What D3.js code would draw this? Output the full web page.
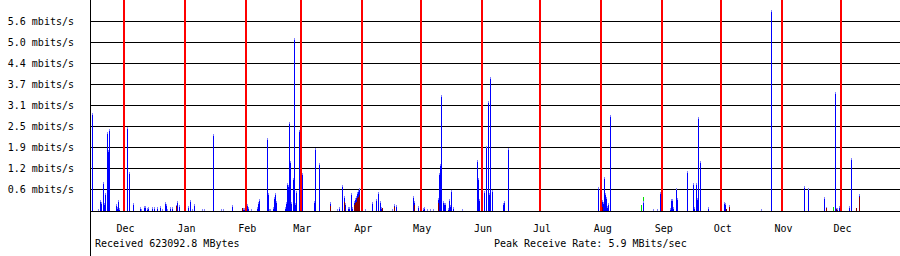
<!DOCTYPE html>
<html>
<head>
<meta charset="utf-8">
<script src="https://cdn.jsdelivr.net/npm/d3@7"></script>
<style>
  html, body { margin: 0; padding: 0; background: #fff; }
  svg { display: block; }
  text { font-family: "DejaVu Sans Mono", "Liberation Mono", monospace; font-size: 10px; fill: #000; }
</style>
</head>
<body>
<svg id="chart" width="900" height="256"></svg>
<script>
// ---- data ----
// month boundaries shown as red lines, with their labels
const monthLabels = ["Dec","Jan","Feb","Mar","Apr","May","Jun","Jul","Aug","Sep","Oct","Nov","Dec"];
// y-axis ticks (mbits/s) and the labels printed for them
const yTickValues = [0.625, 1.25, 1.875, 2.5, 3.125, 3.75, 4.375, 5.0, 5.625];
const yTickLabels = ["0.6","1.2","1.9","2.5","3.1","3.7","4.4","5.0","5.6"];

// sample position: days after 1 Dec (negative = November)
const blueDays = [-16.29,-13.24,-12.22,-11.71,-10.69,-10.18,-9.67,-8.65,-8.14,-7.64,-4.07,-3.56,-3.05,-2.55,
  1.53,2.55,4.58,8.14,8.65,10.18,10.69,11.71,12.22,14.25,15.27,16.80,18.33,19.34,20.87,21.38,21.89,23.42,24.43,
  26.47,26.98,28.00,32.58,33.60,34.62,35.63,39.71,40.72,45.31,49.38,50.40,54.98,60.58,61.09,62.61,63.12,64.65,
  67.71,68.21,68.72,72.80,73.30,73.81,74.32,75.85,76.36,76.87,77.38,81.96,82.47,82.98,83.49,84.00,84.50,85.01,
  86.03,86.54,87.05,87.56,89.09,90.61,96.72,97.23,99.27,104.87,108.43,109.45,110.98,111.99,112.50,114.03,114.54,
  115.56,116.07,117.08,117.59,118.10,118.61,119.12,119.63,122.68,126.25,128.28,129.30,130.32,130.83,136.43,137.45,
  138.46,147.12,147.63,149.66,152.21,152.72,154.25,155.77,157.30,159.85,160.35,160.86,161.37,162.39,162.90,163.41,
  164.94,165.44,165.95,166.46,167.48,172.06,179.70,180.21,180.72,182.24,183.26,184.28,185.30,185.81,186.32,187.33,
  192.93,193.44,195.48,241.29,243.33,243.84,244.35,244.86,245.37,245.88,246.39,247.40,264.20,269.29,271.33,272.86,
  277.95,278.46,278.97,279.48,281.00,281.51,286.60,289.66,290.16,291.18,291.69,292.20,293.22,297.29,305.44,305.95,
  307.98,324.27,329.36,346.16,348.20,356.34,357.36,361.94,362.45,362.96,363.98,369.07,370.09,374.16];
// received rate, blue part (mbits/s)
const blueMbits = [2.90,0.04,0.30,0.25,0.83,0.21,0.51,2.31,1.79,2.40,0.17,0.10,0.30,0.05,
  2.48,1.13,0.21,0.08,0.04,0.12,0.12,0.06,0.10,0.08,0.08,0.08,0.12,0.03,0.25,0.18,0.03,0.10,0.10,
  0.04,0.26,0.15,0.12,0.30,0.02,0.18,0.02,0.02,2.26,0.02,0.02,0.15,0.05,0.05,0.18,0.10,0.02,
  0.08,0.25,0.32,2.15,0.50,0.04,0.04,0.10,0.38,0.51,0.27,0.10,0.23,0.81,0.74,2.61,1.46,0.23,
  0.94,5.11,0.20,0.57,2.38,1.09,0.26,1.85,1.41,0.12,0.02,0.10,0.74,0.17,0.22,0.08,0.08,
  0.50,0.10,0.11,0.15,0.17,0.18,0.20,0.20,0.02,0.24,0.32,0.53,0.27,0.10,0.02,0.07,
  0.15,0.42,0.11,0.12,0.06,0.10,0.03,0.03,0.03,0.14,1.09,1.37,3.41,0.28,0.20,0.20,
  0.05,0.32,0.15,0.60,0.08,0.02,1.49,0.96,0.32,0.32,0.57,1.91,3.24,0.50,3.96,0.60,
  0.20,0.27,1.84,0.68,0.20,0.23,0.97,0.50,0.38,0.13,0.20,2.82,0.28,0.02,0.02,0.53,
  0.06,0.32,0.32,0.08,0.65,0.35,1.15,0.79,0.08,0.79,0.35,2.76,1.45,0.08,0.25,0.20,
  0.07,0.02,5.95,0.71,0.65,0.39,0.03,3.50,0.03,0.06,0.12,0.12,1.54,0.09];
// dark red part (drawn at the bottom of the stack)
const redDays = [26.47,60.07,104.87,111.99,117.08,117.59,118.10,118.61,119.12,119.63,131.34,137.45,147.63,
  159.85,243.33,306.45,307.98,357.36,362.45,372.64,374.16];
const redMbits = [0.12,0.06,0.12,0.25,0.15,0.20,0.25,0.35,0.40,0.45,0.05,0.10,0.15,
  0.22,0.10,0.04,0.08,0.06,0.04,0.06,0.38];
// green part (drawn on top of the stack)
const greenDays = [263.18,264.20,360.92];
const greenMbits = [0.15,0.10,0.09];

const receivedText = "Received 623092.8 MBytes";
const peakText = "Peak Receive Rate: 5.9 MBits/sec";

// ---- drawing ----
const svg = d3.select("#chart");
const DAY = 864e5;
const t0 = Date.UTC(2004, 11, 1);
const dayToDate = d => new Date(t0 + d * DAY);
const monthDates = d3.utcMonth.range(new Date(t0), new Date(Date.UTC(2005, 11, 2)));

const x = d3.scaleUtc().domain([new Date(t0), new Date(Date.UTC(2005, 11, 1))]).range([124, 841]);
const y = d3.scaleLinear().domain([0, 6.25]).range([210, 0]);
const BASE = 211;

svg.append("rect").attr("width", 900).attr("height", 256).attr("fill", "#fff");

// grid + y labels
const yAxis = d3.axisLeft(y).tickValues(yTickValues)
  .tickFormat((d, i) => yTickLabels[i] + " mbits/s")
  .tickSizeInner(-810).tickSizeOuter(0).tickPadding(16);
const gy = svg.append("g").attr("transform", "translate(90,0)").call(yAxis);
gy.select(".domain").remove();
gy.selectAll("line").attr("stroke", "#000").attr("shape-rendering", "crispEdges");
gy.selectAll("text").attr("font-family", null).attr("font-size", null).attr("fill", "#000");

// stacks
const redByDay = new Map(redDays.map((d, i) => [d, redMbits[i]]));
const blueByDay = new Map(blueDays.map((d, i) => [d, blueMbits[i]]));
const px = d => Math.round(x(dayToDate(d)));
const py = v => Math.round(y(v));

const bars = svg.append("g").attr("shape-rendering", "crispEdges");
// red (bottom)
redDays.forEach((d, i) => {
  const top = py(redMbits[i]);
  bars.append("rect").attr("x", px(d)).attr("width", 1)
    .attr("y", top).attr("height", Math.max(1, BASE - top)).attr("fill", "#8b0000");
});
// blue (+ light cap)
blueDays.forEach((d, i) => {
  const base = redByDay.get(d) || 0;
  const bottom = base ? py(base) : BASE;
  const top = py(base + blueMbits[i]);
  const h = Math.max(1, bottom - top);
  bars.append("rect").attr("x", px(d)).attr("width", 1)
    .attr("y", bottom - h).attr("height", h).attr("fill", "#0000ff");
  bars.append("rect").attr("x", px(d)).attr("width", 1)
    .attr("y", bottom - h).attr("height", Math.min(2, h)).attr("fill", "#8080ff");
});
// green (top)
greenDays.forEach((d, i) => {
  const base = (redByDay.get(d) || 0) + (blueByDay.get(d) || 0);
  const bottom = base ? py(base) : BASE;
  const top = py(base + greenMbits[i]);
  bars.append("rect").attr("x", px(d)).attr("width", 1)
    .attr("y", top).attr("height", Math.max(1, bottom - top)).attr("fill", "#00e000");
});

// month lines
svg.append("g").selectAll("rect").data(monthDates).join("rect")
  .attr("x", d => Math.round(x(d)) - 1).attr("width", 2)
  .attr("y", 0).attr("height", BASE).attr("fill", "#ff0000");

// x axis line, y axis line
svg.append("line").attr("x1", 90).attr("x2", 900).attr("y1", BASE + 0.5).attr("y2", BASE + 0.5)
  .attr("stroke", "#000").attr("shape-rendering", "crispEdges");
svg.append("line").attr("x1", 90.5).attr("x2", 90.5).attr("y1", 0).attr("y2", 256)
  .attr("stroke", "#000").attr("shape-rendering", "crispEdges");

// month labels
const xAxis = d3.axisBottom(x).tickValues(monthDates)
  .tickFormat((d, i) => monthLabels[i]).tickSize(0).tickPadding(14);
const gx = svg.append("g").attr("transform", `translate(0,${BASE})`).call(xAxis);
gx.select(".domain").remove();
gx.selectAll("text").attr("font-family", null).attr("font-size", null).attr("fill", "#000").attr("dx", 1);

// footer texts
svg.append("text").attr("x", 95).attr("y", 247).text(receivedText);
svg.append("text").attr("x", 494).attr("y", 247).text(peakText);
</script>
</body>
</html>
